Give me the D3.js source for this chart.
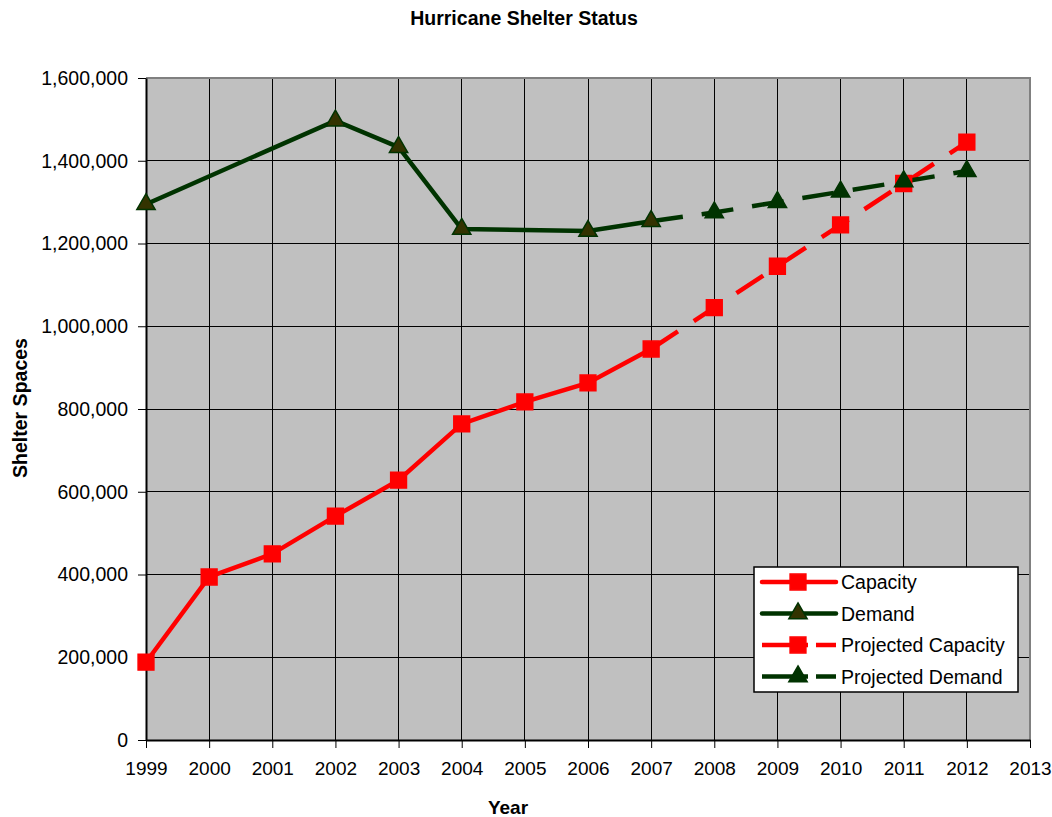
<!DOCTYPE html>
<html>
<head>
<meta charset="utf-8">
<script src="https://cdn.jsdelivr.net/npm/d3@7"></script>
<style>
  body { margin: 0; background: #fff; }
  text { font-family: "Liberation Sans", Arial, sans-serif; }
</style>
</head>
<body>
<div id="chart"></div>
<script>
// data
const years = [1999, 2000, 2001, 2002, 2003, 2004, 2005, 2006, 2007, 2008, 2009, 2010, 2011, 2012, 2013];
const yTicks = [0, 200000, 400000, 600000, 800000, 1000000, 1200000, 1400000, 1600000];

const capacityYears = [1999, 2000, 2001, 2002, 2003, 2004, 2005, 2006, 2007];
const capacity = [188000, 394000, 450000, 541000, 628000, 764000, 817000, 863000, 945000];

const demandYears = [1999, 2002, 2003, 2004, 2006, 2007];
const demand = [1295000, 1497000, 1433000, 1235000, 1230000, 1254000];

const projYears = [2007, 2008, 2009, 2010, 2011, 2012];
const projCapacity = [945000, 1045000, 1145000, 1245000, 1345000, 1445000];
const projDemand = [1254000, 1275000, 1300000, 1325000, 1350000, 1375000];

const width = 1052, height = 817,
      margin = ({ top: 78, right: 22, bottom: 77, left: 146 });

const svg = d3.select("#chart")
  .append("svg")
  .attr("width", width)
  .attr("height", height);

let x = d3.scaleLinear()
  .domain([1999, 2013])
  .range([margin.left, width - margin.right]);

let y = d3.scaleLinear()
  .domain([0, 1600000])
  .range([height - margin.bottom, margin.top]);

// plot background
svg.append("rect")
  .attr("x", x(1999)).attr("y", y(1600000))
  .attr("width", x(2013) - x(1999))
  .attr("height", y(0) - y(1600000))
  .attr("fill", "#c0c0c0");

// grid
svg.append("g")
  .selectAll("line")
  .data(yTicks.slice(1, -1))
  .join("line")
  .attr("x1", x(1999)).attr("x2", x(2013))
  .attr("y1", d => y(d)).attr("y2", d => y(d))
  .attr("stroke", "#000").attr("stroke-width", 1)
  .attr("shape-rendering", "crispEdges");

svg.append("g")
  .selectAll("line")
  .data(years.slice(1, -1))
  .join("line")
  .attr("x1", d => x(d)).attr("x2", d => x(d))
  .attr("y1", y(0)).attr("y2", y(1600000))
  .attr("stroke", "#000").attr("stroke-width", 1)
  .attr("shape-rendering", "crispEdges");

// top and right borders, gray
svg.append("path")
  .attr("d", `M${x(1999)},${y(1600000)}H${x(2013)}V${y(0)}`)
  .attr("fill", "none")
  .attr("stroke", "#808080")
  .attr("stroke-width", 2);

// axes
svg.append("g")
  .attr("transform", `translate(${margin.left},0)`)
  .call(d3.axisLeft(y)
    .tickValues(yTicks)
    .tickSize(8)
    .tickSizeOuter(0)
    .tickPadding(10)
    .tickFormat(d3.format(",")))
  .call(g => g.selectAll("text").attr("font-size", 19.5).attr("fill", "#000"))
  .call(g => g.select(".domain").attr("stroke-width", 2));

svg.append("g")
  .attr("transform", `translate(0,${height - margin.bottom})`)
  .call(d3.axisBottom(x)
    .tickValues(years)
    .tickSize(8)
    .tickSizeOuter(0)
    .tickPadding(14)
    .tickFormat(d3.format("d")))
  .call(g => g.selectAll("text").attr("font-size", 19).attr("fill", "#000"))
  .call(g => g.select(".domain").attr("stroke-width", 2));

// titles
svg.append("text")
  .attr("x", 524).attr("y", 25)
  .attr("text-anchor", "middle")
  .attr("font-size", 19.5).attr("font-weight", "bold")
  .text("Hurricane Shelter Status");

svg.append("text")
  .attr("x", 508).attr("y", 814)
  .attr("text-anchor", "middle")
  .attr("font-size", 19).attr("font-weight", "bold")
  .text("Year");

svg.append("text")
  .attr("transform", "translate(27,408) rotate(-90)")
  .attr("text-anchor", "middle")
  .attr("font-size", 19.5).attr("font-weight", "bold")
  .text("Shelter Spaces");

const red = "#ff0000", green = "#003300";
const dash = "32,19";

let line = d3.line()
  .x(d => x(d[0]))
  .y(d => y(d[1]));

const zip = (a, b) => a.map((v, i) => [v, b[i]]);

const series = [
  { name: "Capacity", pts: zip(capacityYears, capacity), color: red, dash: null, marker: "square", fill: red },
  { name: "Demand", pts: zip(demandYears, demand), color: green, dash: null, marker: "triangle", fill: "#333300" },
  { name: "Projected Capacity", pts: zip(projYears, projCapacity), color: red, dash: dash, marker: "square", fill: red },
  { name: "Projected Demand", pts: zip(projYears, projDemand), color: green, dash: dash, marker: "triangle", fill: green }
];

const sym = {
  square: d3.symbol().type(d3.symbolSquare).size(250),
  triangle: d3.symbol().type(d3.symbolTriangle).size(145)
};

function drawSeries(s, pts) {
  svg.append("path")
    .datum(pts)
    .attr("d", line)
    .attr("fill", "none")
    .attr("stroke", s.color)
    .attr("stroke-width", 4.5)
    .attr("stroke-dasharray", s.dash);
}

function drawMarkers(s, pts) {
  svg.append("g")
    .selectAll("path")
    .data(pts)
    .join("path")
    .attr("transform", d => `translate(${x(d[0])},${y(d[1])})`)
    .attr("d", sym[s.marker])
    .attr("fill", s.fill)
    .attr("stroke", s.color)
    .attr("stroke-width", 1.5);
}

// projected first, then actual over it
[series[2], series[3], series[0], series[1]].forEach(s => drawSeries(s, s.pts));
drawMarkers(series[2], series[2].pts.slice(1));
drawMarkers(series[3], series[3].pts.slice(1));
drawMarkers(series[0], series[0].pts);
drawMarkers(series[1], series[1].pts);

// legend
const lg = svg.append("g").attr("transform", "translate(754,567)");
lg.append("rect")
  .attr("width", 264).attr("height", 125)
  .attr("fill", "#fff").attr("stroke", "#000").attr("stroke-width", 1.5);

series.forEach((s, i) => {
  const ly = 15 + i * 31.5;
  const row = lg.append("g").attr("transform", `translate(0,${ly})`);
  row.append("line")
    .attr("x1", 8).attr("x2", 82)
    .attr("stroke", s.color).attr("stroke-width", 4.5)
    .attr("stroke-linecap", s.dash ? "butt" : "round")
    .attr("stroke-dasharray", s.dash ? "46,8,22" : null);
  row.append("path")
    .attr("transform", "translate(44,0)")
    .attr("d", sym[s.marker])
    .attr("fill", s.fill)
    .attr("stroke", s.color)
    .attr("stroke-width", 1.5);
  row.append("text")
    .attr("x", 87).attr("y", 7)
    .attr("font-size", 19.5)
    .text(s.name);
});
</script>
</body>
</html>
